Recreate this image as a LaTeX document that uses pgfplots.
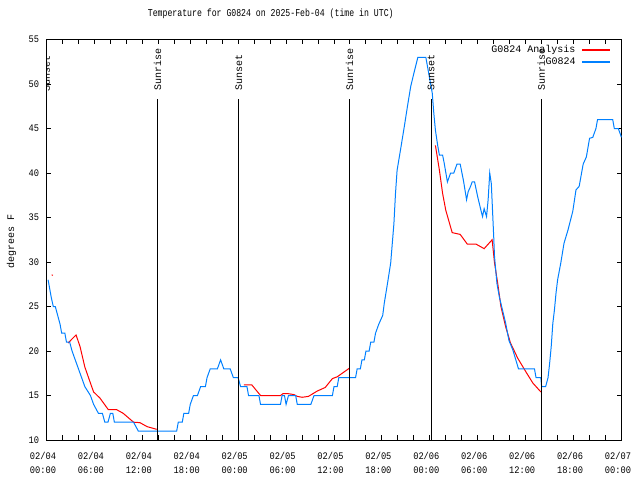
\documentclass[border=0pt]{standalone}
\usepackage{fontspec}
\usepackage{pgfplots}
\pgfplotsset{compat=1.18}
\newfontfamily\gp{Liberation Mono}
\newfontfamily\gpn[FakeStretch=0.87]{Liberation Mono}
\newfontfamily\gpt[FakeStretch=0.78]{Liberation Mono}
\definecolor{gpred}{RGB}{255,0,0}
\definecolor{gpblue}{RGB}{0,128,255}
\begin{document}
\begin{tikzpicture}
\begin{axis}[
  name=ax,
  scale only axis,
  width=575bp, height=400.5bp,
  xmin=0, xmax=72, ymin=10, ymax=55,
  xtick={0,6,...,72},
  minor xtick={2,4,8,10,14,16,20,22,26,28,32,34,38,40,44,46,50,52,56,58,62,64,68,70},
  xticklabels={{02/04\\00:00},{02/04\\06:00},{02/04\\12:00},{02/04\\18:00},{02/05\\00:00},{02/05\\06:00},{02/05\\12:00},{02/05\\18:00},{02/06\\00:00},{02/06\\06:00},{02/06\\12:00},{02/06\\18:00},{02/07\\00:00}},
  xticklabel style={align=center, font=\gpn\fontsize{10bp}{14bp}\selectfont, xshift=-3.5bp, yshift=-8.5bp},
  ytick={10,15,...,55},
  yticklabel style={font=\gpn\fontsize{10bp}{12bp}\selectfont, xshift=-4bp},
  /pgf/number format/assume math mode=true,
  tick align=inside,
  major tick length=4.5bp, minor tick length=4.5bp,
  every tick/.style={black, line width=1bp},
  axis line style={black, line width=1bp},
  title={Temperature for G0824 on 2025-Feb-04 (time in UTC)},
  title style={font=\gpt\fontsize{10.5bp}{12bp}\selectfont, at={(axis description cs:0.39,1.049)}, anchor=center},
  ylabel={degrees F},
  ylabel style={font=\gp\fontsize{10bp}{12bp}\selectfont, at={(axis description cs:-0.061,0.496)}, anchor=center},
  legend plot pos=right,
  legend cell align=right,
  legend style={at={(axis description cs:0.9815,0.99)}, anchor=north east, draw=none, fill=none,
    font=\gp\fontsize{10bp}{12bp}\selectfont, row sep=0pt, inner sep=0pt,
    nodes={text height=7bp, text depth=2bp, inner sep=1.5bp},
    /tikz/column 1/.style={column sep=4bp}},
  legend image post style={xscale=1.65, line width=1.6bp},
]
% Analysis (red)
\addplot[color=gpred, draw=gpred, line width=1bp] coordinates {
(2.7,20.9) (3.7,21.8) (4.2,20.5) (4.8,18.2) (5.5,16.4) (5.9,15.4) (6.7,14.7) (7.75,13.4) (8.8,13.4) (9.6,13.0) (10.9,12.0) (11.7,11.95) (12.6,11.5) (13.8,11.2)
};
\addlegendentry{G0824 Analysis}
\addplot[gpred, line width=1bp, forget plot] coordinates {(0.65,28.55) (0.8,28.5)};
\addplot[gpred, line width=1bp, forget plot] coordinates {
(24.7,16.2) (25.7,16.2) (26.8,15.0) (29.3,15.0) (29.6,15.2) (30.3,15.2) (31.0,15.1) (31.4,14.9) (32.0,14.8) (32.8,14.9) (33.9,15.5) (34.9,15.9) (35.8,16.9) (36.4,17.1) (37.9,18.05)
};
\addplot[gpred, line width=1bp, forget plot] coordinates {
(48.7,43.1) (49.2,40.3) (49.6,37.7) (50.0,35.8) (50.8,33.3) (51.8,33.1) (52.7,32.0) (53.8,32.0) (54.8,31.5) (55.8,32.5) (56.1,29.9) (56.5,27.6) (56.9,25.0) (57.5,22.7) (58.1,20.9) (59.0,19.2) (60.0,17.7) (60.9,16.4) (61.9,15.4)
};
% Observations (blue)
\addplot[color=gpblue, draw=gpblue, line width=1bp] coordinates {
(0.2,28) (0.6,26) (0.85,25) (1.1,25) (1.7,23) (1.9,22) (2.3,22) (2.5,21) (2.9,21) (3.2,20) (3.6,19) (4.0,18) (4.4,17) (4.8,16) (5.5,15) (5.9,14) (6.5,13) (7.0,13) (7.3,12) (7.7,12) (8.0,13) (8.3,13) (8.5,12) (10.9,12) (11.5,11) (16.3,11) (16.5,12) (17.0,12) (17.2,13) (17.8,13) (18.0,14) (18.4,15) (18.9,15) (19.3,16) (19.9,16) (20.1,17) (20.5,18) (21.4,18) (21.8,19) (22.2,18) (23.0,18) (23.4,17) (24.0,17) (24.3,16) (25.1,16) (25.3,15) (26.6,15) (26.8,14) (29.3,14) (29.5,15) (29.8,15) (30.0,14) (30.3,15) (31.2,15) (31.4,14) (33.1,14) (33.5,15) (35.8,15) (36.0,16) (36.4,16) (36.6,17) (38.7,17) (38.9,18) (39.3,18) (39.5,19) (39.8,19) (40.0,20) (40.4,20) (40.6,21) (41.0,21) (41.2,22) (41.6,23) (42.1,24) (42.3,25.4) (42.7,27.6) (43.1,29.9) (43.3,32.1) (43.5,34.3) (43.7,37.7) (43.9,40.3) (44.4,43.0) (44.8,45.2) (45.2,47.5) (45.6,49.7) (46.0,51.2) (46.5,53) (47.5,53) (47.9,51) (48.3,49) (48.5,46.7) (48.7,44.8) (49.0,43.0) (49.2,42) (49.6,42) (49.8,41.1) (50.2,39) (50.6,40) (51.0,40) (51.4,41) (51.8,41) (52.2,39.2) (52.6,37) (52.8,37.9) (53.1,38.5) (53.3,39) (53.6,39) (54.0,37.3) (54.4,35.8) (54.6,35.1) (54.8,36) (55.1,35.1) (55.3,37) (55.5,40) (55.7,38.8) (56.0,32.8) (56.1,30.6) (56.4,27.6) (56.7,26.1) (57.1,24.6) (57.5,23.1) (57.9,21.2) (58.4,20.1) (59.1,18) (61.1,18) (61.3,17) (61.9,17) (62.0,16) (62.5,16) (62.8,17) (63.0,18.6) (63.2,20.5) (63.4,23.1) (63.6,24.6) (63.8,26.5) (64.0,28) (64.4,29.9) (64.8,32.1) (65.3,33.6) (65.9,35.7) (66.3,38.1) (66.7,38.5) (67.2,41) (67.6,41.8) (68.0,43.9) (68.4,44) (68.8,45) (69.0,46) (70.9,46) (71.1,45) (71.6,45) (72.0,44)
};
\addlegendentry{G0824}
% sunrise / sunset lines
\addplot[black, line width=1bp, forget plot] coordinates {(0.0,10) (0.0,48.3)};
\addplot[black, line width=1bp, forget plot] coordinates {(13.9,10) (13.9,48.3)};
\addplot[black, line width=1bp, forget plot] coordinates {(24.07,10) (24.07,48.3)};
\addplot[black, line width=1bp, forget plot] coordinates {(37.95,10) (37.95,48.3)};
\addplot[black, line width=1bp, forget plot] coordinates {(48.15,10) (48.15,48.3)};
\addplot[black, line width=1bp, forget plot] coordinates {(61.95,10) (61.95,48.3)};
\node[rotate=90, anchor=west, inner sep=0pt, xshift=0bp, font=\gp\fontsize{10bp}{12bp}\selectfont] at (axis cs:0.0,49.1) {Sunset};
\node[rotate=90, anchor=west, inner sep=0pt, xshift=1bp, font=\gp\fontsize{10bp}{12bp}\selectfont] at (axis cs:13.9,49.1) {Sunrise};
\node[rotate=90, anchor=west, inner sep=0pt, xshift=1bp, font=\gp\fontsize{10bp}{12bp}\selectfont] at (axis cs:24.07,49.1) {Sunset};
\node[rotate=90, anchor=west, inner sep=0pt, xshift=1bp, font=\gp\fontsize{10bp}{12bp}\selectfont] at (axis cs:37.95,49.1) {Sunrise};
\node[rotate=90, anchor=west, inner sep=0pt, xshift=1bp, font=\gp\fontsize{10bp}{12bp}\selectfont] at (axis cs:48.15,49.1) {Sunset};
\node[rotate=90, anchor=west, inner sep=0pt, xshift=1bp, font=\gp\fontsize{10bp}{12bp}\selectfont] at (axis cs:61.95,49.1) {Sunrise};
\end{axis}
\pgfresetboundingbox
\path (ax.south west) ++(-46.5bp,-40bp) rectangle ++(640bp,480bp);
\end{tikzpicture}
\end{document}
